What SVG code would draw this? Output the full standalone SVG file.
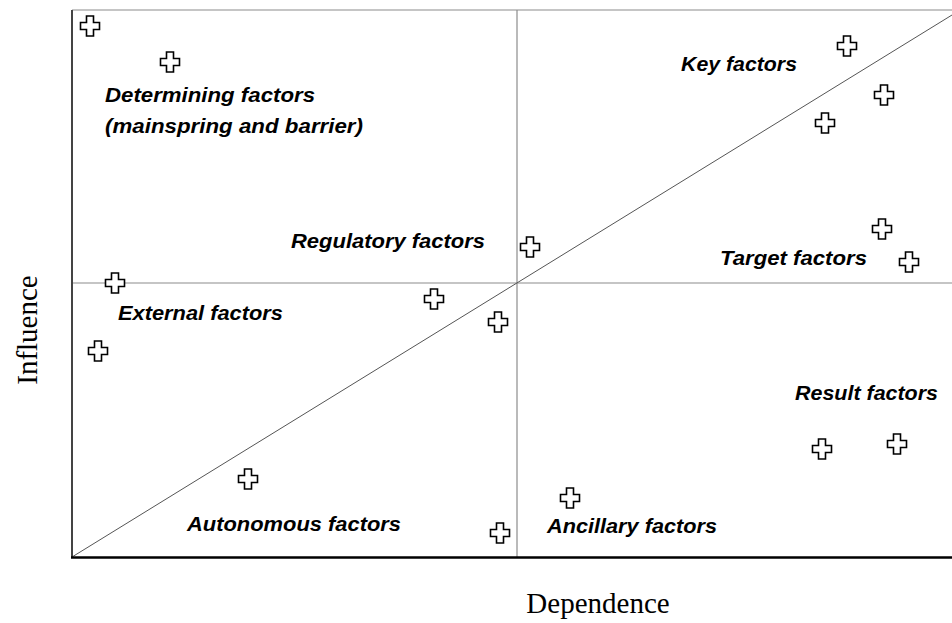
<svg xmlns="http://www.w3.org/2000/svg" xmlns:xlink="http://www.w3.org/1999/xlink" width="952" height="623" viewBox="0 0 952 623">
<style>
.lbl{font-family:"Liberation Sans",Arial,sans-serif;font-weight:bold;font-style:italic;font-size:21px;fill:#000}
.ax{font-family:"Liberation Serif","Times New Roman",serif;font-size:29px;fill:#000}
.pt{fill:#fff;stroke:#000;stroke-width:1.6}
.grid{stroke:#8c8c8c;stroke-width:1.2;fill:none}
</style>
<defs>
<path id="cross" class="pt" d="M-3.5,-10 H3.5 V-3.5 H9.5 V3.5 H3.5 V10 H-3.5 V3.5 H-9.5 V-3.5 H-3.5 Z"/>
</defs>
<rect width="952" height="623" fill="#fff"/>
<g id="connectors">
<line class="grid" x1="72" y1="10" x2="952" y2="10" stroke="#666"/>
<line class="grid" x1="517" y1="10" x2="517" y2="557"/>
<line class="grid" x1="72" y1="283" x2="952" y2="283"/>
<line x1="72" y1="557" x2="952" y2="15" stroke="#555" stroke-width="1"/>
<line x1="72" y1="10" x2="72" y2="558" stroke="#444" stroke-width="2"/>
<line x1="71" y1="557.5" x2="952" y2="557.5" stroke="#000" stroke-width="2.5"/>
</g>
<g id="points">
<use xlink:href="#cross" x="90" y="26"/>
<use xlink:href="#cross" x="170" y="62"/>
<use xlink:href="#cross" x="115" y="283"/>
<use xlink:href="#cross" x="98" y="351"/>
<use xlink:href="#cross" x="434" y="299"/>
<use xlink:href="#cross" x="498" y="322"/>
<use xlink:href="#cross" x="530" y="247"/>
<use xlink:href="#cross" x="248" y="479"/>
<use xlink:href="#cross" x="500" y="533"/>
<use xlink:href="#cross" x="570" y="498"/>
<use xlink:href="#cross" x="847" y="46"/>
<use xlink:href="#cross" x="884" y="95"/>
<use xlink:href="#cross" x="825" y="123"/>
<use xlink:href="#cross" x="882" y="229"/>
<use xlink:href="#cross" x="909" y="262"/>
<use xlink:href="#cross" x="822" y="449"/>
<use xlink:href="#cross" x="897" y="444"/>
</g>
<g id="key"><text class="lbl" x="681" y="71" textLength="116" lengthAdjust="spacingAndGlyphs">Key factors</text></g>
<g id="determining">
<text class="lbl" x="105" y="102" textLength="210" lengthAdjust="spacingAndGlyphs">Determining  factors</text>
<text class="lbl" x="105" y="133" textLength="258" lengthAdjust="spacingAndGlyphs">(mainspring and barrier)</text>
</g>
<g id="regulatory"><text class="lbl" x="291" y="248" textLength="194" lengthAdjust="spacingAndGlyphs">Regulatory factors</text></g>
<g id="target"><text class="lbl" x="720" y="265" textLength="147" lengthAdjust="spacingAndGlyphs">Target factors</text></g>
<g id="external"><text class="lbl" x="118" y="320" textLength="165" lengthAdjust="spacingAndGlyphs">External factors</text></g>
<g id="result"><text class="lbl" x="795" y="400" textLength="143" lengthAdjust="spacingAndGlyphs">Result factors</text></g>
<g id="autonomous"><text class="lbl" x="187" y="531" textLength="214" lengthAdjust="spacingAndGlyphs">Autonomous factors</text></g>
<g id="ancillary"><text class="lbl" x="547" y="533" textLength="170" lengthAdjust="spacingAndGlyphs">Ancillary  factors</text></g>
<g id="axis-x"><text class="ax" x="598" y="613" text-anchor="middle">Dependence</text></g>
<g id="axis-y"><text class="ax" transform="translate(37,330) rotate(-90)" text-anchor="middle">Influence</text></g>
</svg>
